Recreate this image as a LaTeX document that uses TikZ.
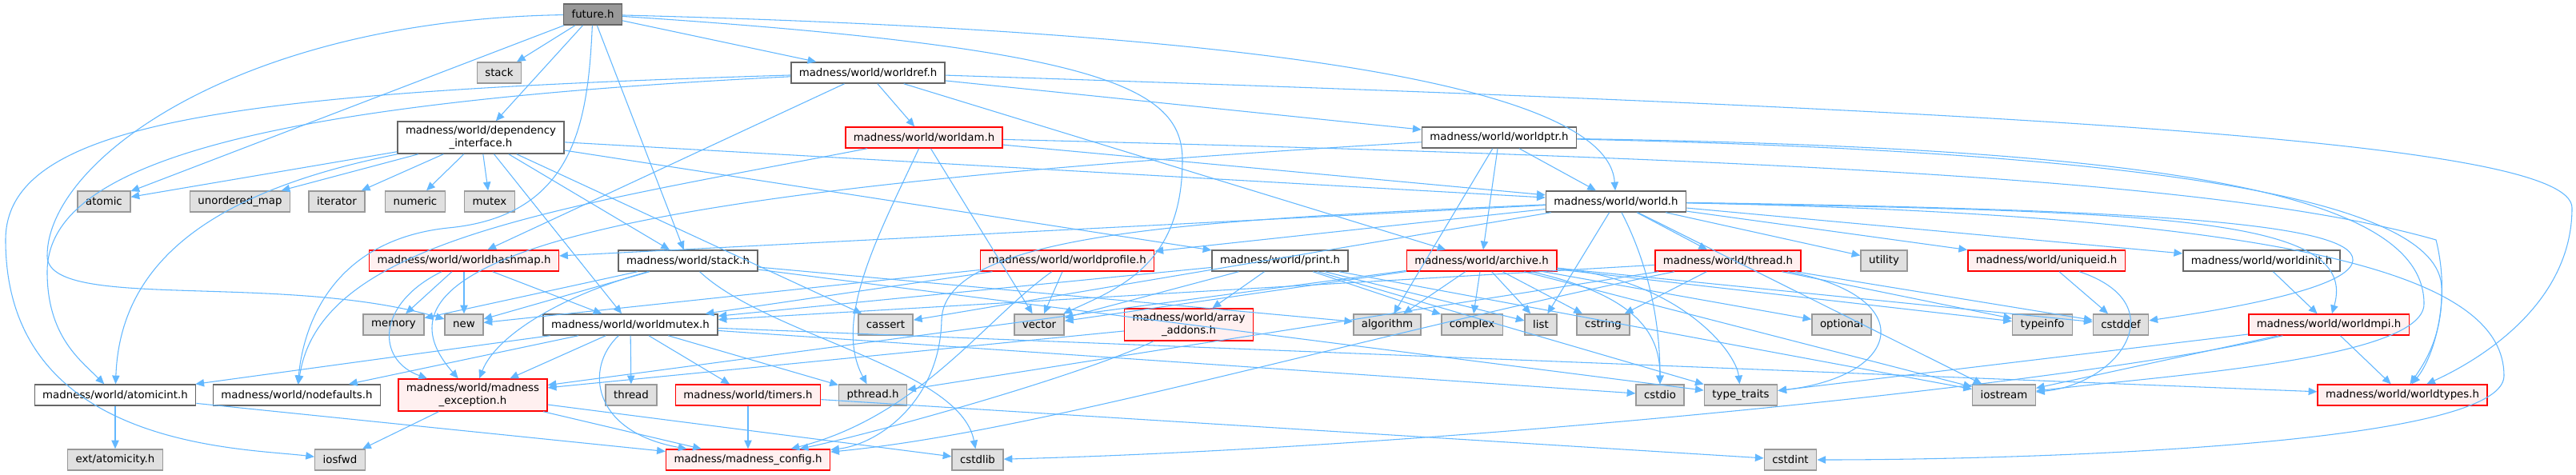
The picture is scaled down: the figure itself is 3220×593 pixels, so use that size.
\documentclass[tikz,border=0pt]{standalone}
\usepackage{fontspec}
\setmainfont{DejaVu Sans}
\usetikzlibrary{arrows.meta}
\definecolor{edgeblue}{HTML}{63B8FF}
\definecolor{sysfill}{HTML}{E0E0E0}
\definecolor{sysline}{HTML}{999999}
\definecolor{hdrline}{HTML}{666666}
\definecolor{rootfill}{HTML}{999999}
\definecolor{truncfill}{HTML}{FFF0F0}
\begin{document}
\begin{tikzpicture}[x=0.75pt,y=-0.75pt,
  every node/.style={font=\fontsize{10pt}{11.5pt}\selectfont, inner xsep=7.5pt, inner ysep=0pt, minimum height=19.5pt, line width=1.1pt},
  sys/.style={draw=sysline, fill=sysfill},
  hdr/.style={draw=hdrline, fill=white},
  trunc/.style={draw=red, fill=truncfill},
  root/.style={draw=hdrline, fill=rootfill},
  two/.style={align=center, minimum height=30pt},
  edge/.style={draw=edgeblue, line width=0.8pt, -{Triangle[length=8pt,width=7pt]}}]
  \fill[white] (0,0) rectangle (3220,593);
  \useasboundingbox (0,0) rectangle (3220,593);
  % rows of headers, top to bottom
  \node[root] (fut) at (741,18) {future.h};
  \node[sys] (stk) at (624,91) {stack};
  \node[hdr] (wref) at (1085,91) {madness/world/worldref.h};
  \node[hdr,two] (dep) at (601,172) {madness/world/dependency\\\_interface.h};
  \node[trunc] (wam) at (1155,172) {madness/world/worldam.h};
  \node[hdr] (wptr) at (1874,172) {madness/world/worldptr.h};
  \node[sys] (atomic) at (130,252) {atomic};
  \node[sys] (umap) at (300,252) {unordered\_map};
  \node[sys] (iter) at (421,252) {iterator};
  \node[sys] (numeric) at (519,252) {numeric};
  \node[sys] (mutex) at (612,252) {mutex};
  \node[hdr] (world) at (2020,252) {madness/world/world.h};
  \node[trunc] (whash) at (580,326) {madness/world/worldhashmap.h};
  \node[hdr] (stackh) at (860,326) {madness/world/stack.h};
  \node[trunc] (wprof) at (1334,326) {madness/world/worldprofile.h};
  \node[hdr] (print) at (1600,326) {madness/world/print.h};
  \node[trunc] (archive) at (1852,326) {madness/world/archive.h};
  \node[trunc] (threadh) at (2160,326) {madness/world/thread.h};
  \node[sys] (utility) at (2355,326) {utility};
  \node[trunc] (uid) at (2558,326) {madness/world/uniqueid.h};
  \node[hdr] (winit) at (2827,326) {madness/world/worldinit.h};
  \node[sys] (memory) at (492,406) {memory};
  \node[sys] (new) at (580,406) {new};
  \node[hdr] (wmutex) at (788,406) {madness/world/worldmutex.h};
  \node[sys] (cassert) at (1107,406) {cassert};
  \node[sys] (vector) at (1299,406) {vector};
  \node[trunc,two] (arr) at (1486,406) {madness/world/array\\\_addons.h};
  \node[sys] (algorithm) at (1734,406) {algorithm};
  \node[sys] (complex) at (1840,406) {complex};
  \node[sys] (list) at (1926,406) {list};
  \node[sys] (cstring) at (2004,406) {cstring};
  \node[sys] (optional) at (2302,406) {optional};
  \node[sys] (typeinfo) at (2553,406) {typeinfo};
  \node[sys] (cstddef) at (2651,406) {cstddef};
  \node[trunc] (wmpi) at (2911,406) {madness/world/worldmpi.h};
  \node[hdr] (aint) at (144,494) {madness/world/atomicint.h};
  \node[hdr] (nodef) at (371,494) {madness/world/nodefaults.h};
  \node[trunc,two] (mexc) at (591,494) {madness/world/madness\\\_exception.h};
  \node[sys] (thread) at (789,494) {thread};
  \node[trunc] (timers) at (935,494) {madness/world/timers.h};
  \node[sys] (pthread) at (1091,494) {pthread.h};
  \node[sys] (cstdio) at (2075,494) {cstdio};
  \node[sys] (typetraits) at (2176,494) {type\_traits};
  \node[sys] (iostream) at (2505,494) {iostream};
  \node[trunc] (wtypes) at (3003,494) {madness/world/worldtypes.h};
  \node[sys] (atomicity) at (144,575) {ext/atomicity.h};
  \node[sys] (iosfwd) at (425,575) {iosfwd};
  \node[trunc] (config) at (935,575) {madness/madness\_config.h};
  \node[sys] (cstdlib) at (1222,575) {cstdlib};
  \node[sys] (cstdint) at (2238,575) {cstdint};
  % future.h
  \draw[edge] (fut) -- (stk);
  \draw[edge] (fut) -- (dep);
  \draw[edge] (fut) -- (wref);
  \draw[edge] (fut) -- (atomic);
  \draw[edge] (fut) -- (stackh);
  \draw[edge] (fut) .. controls (1600,40) and (2010,110) .. (world);
  \draw[edge] (fut) .. controls (1380,60) and (1478,110) .. (1478,200) .. controls (1478,330) and (1400,360) .. (vector);
  \draw[edge] (fut) .. controls (300,25) and (59,200) .. (59,320) .. controls (59,390) and (350,340) .. (new);
  \draw[edge] (fut) .. controls (735,150) and (720,270) .. (560,285) .. controls (420,300) and (380,400) .. (nodef);
  % worldref.h
  \draw[edge] (wref) -- (wam);
  \draw[edge] (wref) -- (wptr);
  \draw[edge] (wref) -- (archive);
  \draw[edge] (wref) -- (whash);
  \draw[edge] (wref) .. controls (300,115) and (7,150) .. (7,300) .. controls (7,560) and (300,560) .. (iosfwd);
  \draw[edge] (wref) .. controls (300,130) and (59,210) .. (59,340) .. controls (59,420) and (100,450) .. (aint);
  \draw[edge] (wref) .. controls (2600,140) and (3215,180) .. (3215,260) .. controls (3215,380) and (3100,450) .. (wtypes);
  % dependency_interface.h
  \draw[edge] (dep) -- (atomic);
  \draw[edge] (dep) -- (umap);
  \draw[edge] (dep) -- (iter);
  \draw[edge] (dep) -- (numeric);
  \draw[edge] (dep) -- (mutex);
  \draw[edge] (dep) .. controls (260,240) and (150,330) .. (aint);
  \draw[edge] (dep) -- (world);
  \draw[edge] (dep) -- (wmutex);
  \draw[edge] (dep) -- (stackh);
  \draw[edge] (dep) -- (cassert);
  \draw[edge] (dep) -- (print);
  % worldam.h
  \draw[edge] (wam) -- (world);
  \draw[edge] (wam) .. controls (1100,290) and (1040,400) .. (pthread);
  \draw[edge] (wam) -- (vector);
  \draw[edge] (wam) .. controls (700,260) and (400,300) .. (nodef);
  \draw[edge] (wam) .. controls (2300,200) and (2800,230) .. (3045,300) .. controls (3065,380) and (3040,450) .. (wtypes);
  % worldptr.h
  \draw[edge] (wptr) -- (world);
  \draw[edge] (wptr) -- (archive);
  \draw[edge] (wptr) -- (algorithm);
  \draw[edge] (wptr) .. controls (900,230) and (420,300) .. (mexc);
  \draw[edge] (wptr) .. controls (2700,190) and (3050,250) .. (3052,360) .. controls (3054,420) and (3030,455) .. (wtypes);
  \draw[edge] (wptr) .. controls (2700,185) and (3030,240) .. (3030,380) .. controls (3030,450) and (2700,470) .. (iostream);
  % world.h
  \draw[edge] (world) -- (whash);
  \draw[edge] (world) -- (wprof);
  \draw[edge] (world) -- (cassert);
  \draw[edge] (world) -- (list);
  \draw[edge] (world) .. controls (2060,330) and (2075,400) .. (cstdio);
  \draw[edge] (world) -- (threadh);
  \draw[edge] (world) -- (utility);
  \draw[edge] (world) -- (uid);
  \draw[edge] (world) -- (winit);
  \draw[edge] (world) .. controls (2700,265) and (2950,270) .. (wmpi);
  \draw[edge] (world) .. controls (2700,262) and (2960,280) .. (2940,330) .. controls (2925,365) and (2760,390) .. (cstddef);
  \draw[edge] (world) -- (iostream);
  \draw[edge] (world) .. controls (2900,270) and (3130,350) .. (3130,470) .. controls (3130,560) and (2500,575) .. (cstdint);
  \draw[edge] (world) .. controls (1500,275) and (1180,290) .. (1177,400) .. controls (1175,500) and (1100,555) .. (config);
  % worldhashmap.h
  \draw[edge] (whash) -- (new);
  \draw[edge] (whash) -- (wmutex);
  \draw[edge] (whash) -- (memory);
  \draw[edge] (whash) .. controls (470,380) and (470,450) .. (mexc);
  % stack.h
  \draw[edge] (stackh) -- (new);
  \draw[edge] (stackh) -- (memory);
  \draw[edge] (stackh) .. controls (700,370) and (620,420) .. (mexc);
  \draw[edge] (stackh) .. controls (960,420) and (1200,460) .. (cstdlib);
  \draw[edge] (stackh) -- (typetraits);
  \draw[edge] (stackh) -- (algorithm);
  % worldmutex.h
  \draw[edge] (wmutex) -- (aint);
  \draw[edge] (wmutex) -- (nodef);
  \draw[edge] (wmutex) -- (mexc);
  \draw[edge] (wmutex) -- (thread);
  \draw[edge] (wmutex) -- (timers);
  \draw[edge] (wmutex) -- (pthread);
  \draw[edge] (wmutex) .. controls (730,460) and (740,540) .. (config);
  \draw[edge] (wmutex) -- (cstdio);
  \draw[edge] (wmutex) -- (wtypes);
  % leaves of the lower rows
  \draw[edge] (timers) -- (config);
  \draw[edge] (timers) -- (cstdint);
  \draw[edge] (mexc) -- (iosfwd);
  \draw[edge] (mexc) -- (config);
  \draw[edge] (mexc) -- (cstdlib);
  \draw[edge] (aint) -- (atomicity);
  \draw[edge] (aint) -- (config);
  % worldprofile.h
  \draw[edge] (wprof) -- (vector);
  \draw[edge] (wprof) -- (wmutex);
  \draw[edge] (wprof) -- (new);
  \draw[edge] (wprof) .. controls (1230,400) and (1150,520) .. (config);
  % print.h
  \draw[edge] (print) -- (wmutex);
  \draw[edge] (print) -- (arr);
  \draw[edge] (print) -- (vector);
  \draw[edge] (print) -- (complex);
  \draw[edge] (print) -- (list);
  \draw[edge] (print) -- (typetraits);
  \draw[edge] (print) -- (iostream);
  % array_addons.h
  \draw[edge] (arr) -- (mexc);
  \draw[edge] (arr) .. controls (1350,470) and (1100,540) .. (config);
  % archive.h
  \draw[edge] (archive) -- (vector);
  \draw[edge] (archive) -- (algorithm);
  \draw[edge] (archive) -- (complex);
  \draw[edge] (archive) -- (list);
  \draw[edge] (archive) -- (cstring);
  \draw[edge] (archive) .. controls (2050,370) and (2075,420) .. (cstdio);
  \draw[edge] (archive) .. controls (2100,350) and (2170,440) .. (typetraits);
  \draw[edge] (archive) -- (typeinfo);
  \draw[edge] (archive) -- (cstddef);
  \draw[edge] (archive) -- (iostream);
  \draw[edge] (archive) -- (optional);
  \draw[edge] (archive) -- (mexc);
  % thread.h
  \draw[edge] (threadh) -- (wmutex);
  \draw[edge] (threadh) -- (pthread);
  \draw[edge] (threadh) -- (cstring);
  \draw[edge] (threadh) .. controls (2400,370) and (2380,470) .. (typetraits);
  \draw[edge] (threadh) -- (cstddef);
  \draw[edge] (threadh) -- (typeinfo);
  \draw[edge] (threadh) .. controls (1700,420) and (1300,540) .. (config);
  % uniqueid.h, worldinit.h, worldmpi.h
  \draw[edge] (uid) -- (cstddef);
  \draw[edge] (uid) .. controls (2720,380) and (2650,480) .. (iostream);
  \draw[edge] (winit) -- (wmpi);
  \draw[edge] (wmpi) -- (wtypes);
  \draw[edge] (wmpi) -- (iostream);
  \draw[edge] (wmpi) -- (typetraits);
  \draw[edge] (wmpi) .. controls (2600,480) and (1800,560) .. (cstdlib);
\end{tikzpicture}
\end{document}
